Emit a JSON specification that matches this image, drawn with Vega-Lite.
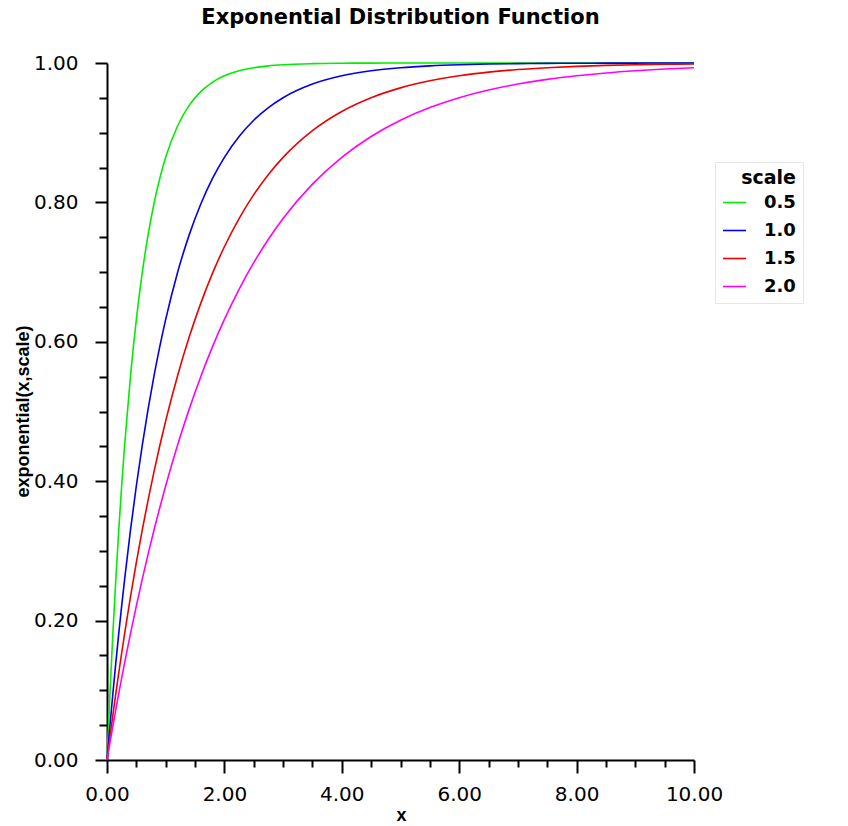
{
  "$schema": "https://vega.github.io/schema/vega-lite/v6.json",
  "width": 587,
  "height": 697,
  "autosize": {"type": "none"},
  "padding": {"left": 107, "top": 63, "right": 154, "bottom": 66},
  "background": "white",
  "title": {
    "text": "Exponential Distribution Function",
    "font": "DejaVu Sans",
    "fontSize": 21,
    "fontWeight": "bold",
    "color": "black",
    "anchor": "middle",
    "offset": 25
  },
  "config": {
    "view": {"stroke": null},
    "axis": {
      "domainColor": "black",
      "domainWidth": 2,
      "tickColor": "black",
      "tickWidth": 2,
      "grid": false,
      "labelFont": "DejaVu Sans",
      "labelFontSize": 20,
      "labelColor": "black",
      "titleFont": "Liberation Sans",
      "titleFontWeight": "bold",
      "titleFontSize": 18,
      "titleColor": "black"
    }
  },
  "data": {
    "values": [
      {"x": 0, "scale": "0.5", "p": 0},
      {"x": 0.05, "scale": "0.5", "p": 0.09516},
      {"x": 0.1, "scale": "0.5", "p": 0.18127},
      {"x": 0.15, "scale": "0.5", "p": 0.25918},
      {"x": 0.2, "scale": "0.5", "p": 0.32968},
      {"x": 0.25, "scale": "0.5", "p": 0.39347},
      {"x": 0.3, "scale": "0.5", "p": 0.45119},
      {"x": 0.4, "scale": "0.5", "p": 0.55067},
      {"x": 0.5, "scale": "0.5", "p": 0.63212},
      {"x": 0.6, "scale": "0.5", "p": 0.69881},
      {"x": 0.7, "scale": "0.5", "p": 0.7534},
      {"x": 0.8, "scale": "0.5", "p": 0.7981},
      {"x": 0.9, "scale": "0.5", "p": 0.8347},
      {"x": 1.0, "scale": "0.5", "p": 0.86466},
      {"x": 1.2, "scale": "0.5", "p": 0.90928},
      {"x": 1.4, "scale": "0.5", "p": 0.93919},
      {"x": 1.6, "scale": "0.5", "p": 0.95924},
      {"x": 1.8, "scale": "0.5", "p": 0.97268},
      {"x": 2.0, "scale": "0.5", "p": 0.98168},
      {"x": 2.25, "scale": "0.5", "p": 0.98889},
      {"x": 2.5, "scale": "0.5", "p": 0.99326},
      {"x": 2.75, "scale": "0.5", "p": 0.99591},
      {"x": 3.0, "scale": "0.5", "p": 0.99752},
      {"x": 3.5, "scale": "0.5", "p": 0.99909},
      {"x": 4.0, "scale": "0.5", "p": 0.99966},
      {"x": 4.5, "scale": "0.5", "p": 0.99988},
      {"x": 5.0, "scale": "0.5", "p": 0.99995},
      {"x": 5.5, "scale": "0.5", "p": 0.99998},
      {"x": 6.0, "scale": "0.5", "p": 0.99999},
      {"x": 7.0, "scale": "0.5", "p": 1.0},
      {"x": 8.0, "scale": "0.5", "p": 1.0},
      {"x": 9.0, "scale": "0.5", "p": 1.0},
      {"x": 10.0, "scale": "0.5", "p": 1.0},

      {"x": 0, "scale": "1.0", "p": 0},
      {"x": 0.05, "scale": "1.0", "p": 0.04877},
      {"x": 0.1, "scale": "1.0", "p": 0.09516},
      {"x": 0.15, "scale": "1.0", "p": 0.13929},
      {"x": 0.2, "scale": "1.0", "p": 0.18127},
      {"x": 0.25, "scale": "1.0", "p": 0.2212},
      {"x": 0.3, "scale": "1.0", "p": 0.25918},
      {"x": 0.4, "scale": "1.0", "p": 0.32968},
      {"x": 0.5, "scale": "1.0", "p": 0.39347},
      {"x": 0.6, "scale": "1.0", "p": 0.45119},
      {"x": 0.7, "scale": "1.0", "p": 0.50341},
      {"x": 0.8, "scale": "1.0", "p": 0.55067},
      {"x": 0.9, "scale": "1.0", "p": 0.59343},
      {"x": 1.0, "scale": "1.0", "p": 0.63212},
      {"x": 1.2, "scale": "1.0", "p": 0.69881},
      {"x": 1.4, "scale": "1.0", "p": 0.7534},
      {"x": 1.6, "scale": "1.0", "p": 0.7981},
      {"x": 1.8, "scale": "1.0", "p": 0.8347},
      {"x": 2.0, "scale": "1.0", "p": 0.86466},
      {"x": 2.25, "scale": "1.0", "p": 0.8946},
      {"x": 2.5, "scale": "1.0", "p": 0.91792},
      {"x": 2.75, "scale": "1.0", "p": 0.93607},
      {"x": 3.0, "scale": "1.0", "p": 0.95021},
      {"x": 3.5, "scale": "1.0", "p": 0.9698},
      {"x": 4.0, "scale": "1.0", "p": 0.98168},
      {"x": 4.5, "scale": "1.0", "p": 0.98889},
      {"x": 5.0, "scale": "1.0", "p": 0.99326},
      {"x": 5.5, "scale": "1.0", "p": 0.99591},
      {"x": 6.0, "scale": "1.0", "p": 0.99752},
      {"x": 6.5, "scale": "1.0", "p": 0.9985},
      {"x": 7.0, "scale": "1.0", "p": 0.99909},
      {"x": 7.5, "scale": "1.0", "p": 0.99945},
      {"x": 8.0, "scale": "1.0", "p": 0.99966},
      {"x": 8.5, "scale": "1.0", "p": 0.9998},
      {"x": 9.0, "scale": "1.0", "p": 0.99988},
      {"x": 9.5, "scale": "1.0", "p": 0.99993},
      {"x": 10.0, "scale": "1.0", "p": 0.99995},

      {"x": 0, "scale": "1.5", "p": 0},
      {"x": 0.05, "scale": "1.5", "p": 0.03278},
      {"x": 0.1, "scale": "1.5", "p": 0.06449},
      {"x": 0.15, "scale": "1.5", "p": 0.09516},
      {"x": 0.2, "scale": "1.5", "p": 0.12483},
      {"x": 0.25, "scale": "1.5", "p": 0.15352},
      {"x": 0.3, "scale": "1.5", "p": 0.18127},
      {"x": 0.4, "scale": "1.5", "p": 0.23407},
      {"x": 0.5, "scale": "1.5", "p": 0.28347},
      {"x": 0.6, "scale": "1.5", "p": 0.32968},
      {"x": 0.7, "scale": "1.5", "p": 0.37291},
      {"x": 0.8, "scale": "1.5", "p": 0.41335},
      {"x": 0.9, "scale": "1.5", "p": 0.45119},
      {"x": 1.0, "scale": "1.5", "p": 0.48658},
      {"x": 1.2, "scale": "1.5", "p": 0.55067},
      {"x": 1.4, "scale": "1.5", "p": 0.60676},
      {"x": 1.6, "scale": "1.5", "p": 0.65585},
      {"x": 1.8, "scale": "1.5", "p": 0.69881},
      {"x": 2.0, "scale": "1.5", "p": 0.7364},
      {"x": 2.25, "scale": "1.5", "p": 0.77687},
      {"x": 2.5, "scale": "1.5", "p": 0.81112},
      {"x": 2.75, "scale": "1.5", "p": 0.84012},
      {"x": 3.0, "scale": "1.5", "p": 0.86466},
      {"x": 3.5, "scale": "1.5", "p": 0.90303},
      {"x": 4.0, "scale": "1.5", "p": 0.93052},
      {"x": 4.5, "scale": "1.5", "p": 0.95021},
      {"x": 5.0, "scale": "1.5", "p": 0.96433},
      {"x": 5.5, "scale": "1.5", "p": 0.97444},
      {"x": 6.0, "scale": "1.5", "p": 0.98168},
      {"x": 6.5, "scale": "1.5", "p": 0.98688},
      {"x": 7.0, "scale": "1.5", "p": 0.9906},
      {"x": 7.5, "scale": "1.5", "p": 0.99326},
      {"x": 8.0, "scale": "1.5", "p": 0.99517},
      {"x": 8.5, "scale": "1.5", "p": 0.99654},
      {"x": 9.0, "scale": "1.5", "p": 0.99752},
      {"x": 9.5, "scale": "1.5", "p": 0.99822},
      {"x": 10.0, "scale": "1.5", "p": 0.99873},

      {"x": 0, "scale": "2.0", "p": 0},
      {"x": 0.05, "scale": "2.0", "p": 0.02469},
      {"x": 0.1, "scale": "2.0", "p": 0.04877},
      {"x": 0.15, "scale": "2.0", "p": 0.07226},
      {"x": 0.2, "scale": "2.0", "p": 0.09516},
      {"x": 0.25, "scale": "2.0", "p": 0.1175},
      {"x": 0.3, "scale": "2.0", "p": 0.13929},
      {"x": 0.4, "scale": "2.0", "p": 0.18127},
      {"x": 0.5, "scale": "2.0", "p": 0.2212},
      {"x": 0.6, "scale": "2.0", "p": 0.25918},
      {"x": 0.7, "scale": "2.0", "p": 0.29531},
      {"x": 0.8, "scale": "2.0", "p": 0.32968},
      {"x": 0.9, "scale": "2.0", "p": 0.36237},
      {"x": 1.0, "scale": "2.0", "p": 0.39347},
      {"x": 1.2, "scale": "2.0", "p": 0.45119},
      {"x": 1.4, "scale": "2.0", "p": 0.50341},
      {"x": 1.6, "scale": "2.0", "p": 0.55067},
      {"x": 1.8, "scale": "2.0", "p": 0.59343},
      {"x": 2.0, "scale": "2.0", "p": 0.63212},
      {"x": 2.25, "scale": "2.0", "p": 0.67535},
      {"x": 2.5, "scale": "2.0", "p": 0.7135},
      {"x": 2.75, "scale": "2.0", "p": 0.74716},
      {"x": 3.0, "scale": "2.0", "p": 0.77687},
      {"x": 3.5, "scale": "2.0", "p": 0.82623},
      {"x": 4.0, "scale": "2.0", "p": 0.86466},
      {"x": 4.5, "scale": "2.0", "p": 0.8946},
      {"x": 5.0, "scale": "2.0", "p": 0.91792},
      {"x": 5.5, "scale": "2.0", "p": 0.93607},
      {"x": 6.0, "scale": "2.0", "p": 0.95021},
      {"x": 6.5, "scale": "2.0", "p": 0.96123},
      {"x": 7.0, "scale": "2.0", "p": 0.9698},
      {"x": 7.5, "scale": "2.0", "p": 0.97648},
      {"x": 8.0, "scale": "2.0", "p": 0.98168},
      {"x": 8.5, "scale": "2.0", "p": 0.98574},
      {"x": 9.0, "scale": "2.0", "p": 0.98889},
      {"x": 9.5, "scale": "2.0", "p": 0.99135},
      {"x": 10.0, "scale": "2.0", "p": 0.99326}
    ]
  },
  "layer": [
    {
      "mark": {"type": "line", "strokeOpacity": 0},
      "encoding": {
        "x": {
          "field": "x", "type": "quantitative",
          "scale": {"domain": [0, 10], "nice": false, "zero": false},
          "axis": {
            "orient": "bottom", "values": [0.5, 1, 1.5, 2.5, 3, 3.5, 4.5, 5, 5.5, 6.5, 7, 7.5, 8.5, 9, 9.5],
            "labels": false, "domain": false, "tickSize": 7, "title": null
          }
        },
        "y": {
          "field": "p", "type": "quantitative",
          "scale": {"domain": [0, 1], "nice": false},
          "axis": {
            "orient": "left", "values": [0.05, 0.1, 0.15, 0.25, 0.3, 0.35, 0.45, 0.5, 0.55, 0.65, 0.7, 0.75, 0.85, 0.9, 0.95],
            "labels": false, "domain": false, "tickSize": 8, "title": null
          }
        },
        "detail": {"field": "scale"}
      }
    },
    {
      "mark": {"type": "line", "interpolate": "monotone", "strokeWidth": 1.6},
      "encoding": {
        "x": {
          "field": "x", "type": "quantitative",
          "scale": {"domain": [0, 10], "nice": false, "zero": false},
          "axis": {
            "orient": "bottom", "values": [0, 2, 4, 6, 8, 10], "format": ".2f",
            "tickSize": 13, "labelPadding": 11, "labelFlush": false,
            "title": "x", "titleX": 294, "titleY": 55, "titleBaseline": "middle", "titleAlign": "center"
          }
        },
        "y": {
          "field": "p", "type": "quantitative",
          "scale": {"domain": [0, 1], "nice": false},
          "axis": {
            "orient": "left", "values": [0, 0.2, 0.4, 0.6, 0.8, 1.0], "format": ".2f",
            "tickSize": 12, "labelPadding": 17, "labelFlush": false,
            "title": "exponential(x,scale)", "titleAngle": 270, "titleX": -84, "titleY": 348,
            "titleBaseline": "middle", "titleAlign": "center"
          }
        },
        "color": {
          "field": "scale", "type": "nominal",
          "scale": {"domain": ["0.5", "1.0", "1.5", "2.0"], "range": ["#00ee00", "#0000ee", "#ee0000", "#ff00ff"]},
          "legend": {
            "orient": "none", "legendX": 608, "legendY": 99,
            "title": "scale",
            "titleFont": "DejaVu Sans", "titleFontSize": 19, "titleFontWeight": "bold", "titleColor": "black",
            "titleAnchor": "end", "titlePadding": 2,
            "labelFont": "DejaVu Sans", "labelFontSize": 18, "labelFontWeight": "bold", "labelColor": "black",
            "symbolType": "stroke", "symbolSize": 529, "symbolStrokeWidth": 1.6, "labelOffset": 17,
            "rowPadding": 6, "padding": 7, "strokeColor": "#e6e6e6", "fillColor": "white"
          }
        }
      }
    }
  ],
  "resolve": {"axis": {"x": "independent", "y": "independent"}}
}
